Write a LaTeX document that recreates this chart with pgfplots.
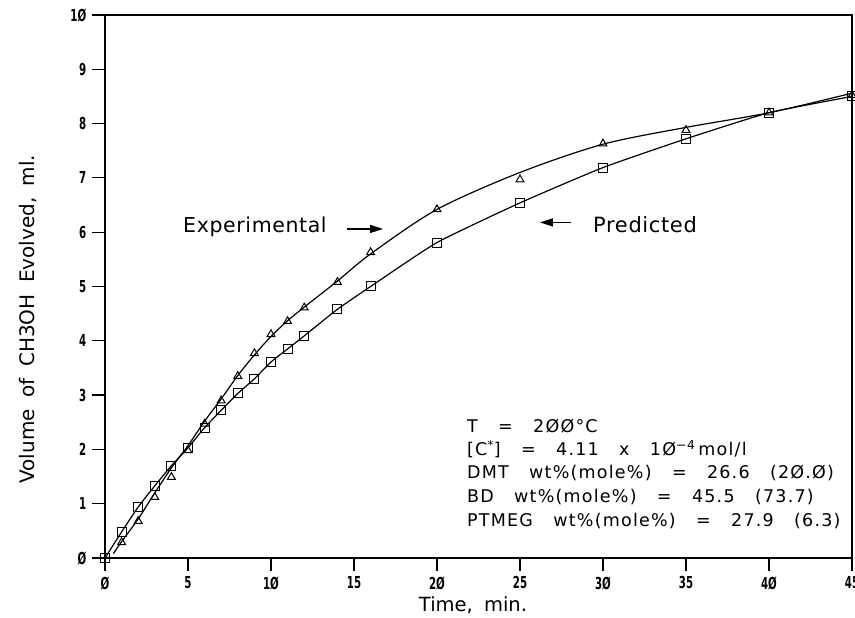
\documentclass[border=0pt]{standalone}
\usepackage{fontspec}
\setmainfont{DejaVu Sans}
\newfontfamily\tickfont{DejaVu Sans}
\newfontfamily\legfont{DejaVu Sans}[LetterSpace=7,WordSpace=3]
\newfontfamily\annfont{DejaVu Sans}[LetterSpace=3]
\newfontfamily\labfont{DejaVu Sans}[WordSpace=1.8]
\usepackage{graphicx}
\usepackage{pgfplots}
\pgfplotsset{compat=1.18}
\usetikzlibrary{arrows.meta}
% narrow bold tick numbers, slashed zeros as in the plotter font
\newcommand\tk[1]{\scalebox{0.62}[1]{\tickfont\bfseries #1}}

\begin{document}
\fontsize{16.5bp}{20bp}\selectfont
\begin{tikzpicture}
\begin{axis}[
    scale only axis,
    width=747bp, height=543bp,
    xmin=0, xmax=45, ymin=0, ymax=10,
    xtick={0,5,...,45},
    xticklabels={\tk{Ø},\tk{5},\tk{1Ø},\tk{15},\tk{2Ø},\tk{25},\tk{3Ø},\tk{35},\tk{4Ø},\tk{45}},
    ytick={0,1,...,10},
    yticklabels={\tk{Ø},\tk{1},\tk{2},\tk{3},\tk{4},\tk{5},\tk{6},\tk{7},\tk{8},\tk{9},\tk{1Ø}},
    xtick pos=bottom, ytick pos=left,
    tick align=outside,
    major tick length=13bp,
    tick style={black, line width=1.2bp},
    axis line style={line width=1.4bp},
    xlabel={Time, min.},
    ylabel={Volume of CH3OH Evolved, ml.},
    every axis x label/.style={at={(axis description cs:0.4926,-0.0866)}, anchor=center,
        font=\labfont\fontsize{19.5bp}{22bp}\selectfont},
    every axis y label/.style={at={(axis description cs:-0.103,0.44)}, anchor=center, rotate=90,
        font=\labfont\fontsize{20bp}{23bp}\selectfont},
    clip=false,
]

% Experimental curve (smooth fit)
\addplot[black, line width=1.2bp, smooth, tension=0.5] coordinates {
    (0.5,0.08) (1,0.30) (2,0.72) (3,1.20) (4,1.66) (5,2.07) (6,2.52)
    (7,2.93) (8,3.36) (9,3.74) (10,4.08) (11,4.37) (12,4.62) (14,5.10)
    (16,5.60) (20,6.42) (25,7.10) (30,7.62) (35,7.93) (40,8.20) (45,8.56)
};

% Experimental points - triangles
\addplot[only marks, mark=triangle, mark size=4.5bp, mark options={line width=1bp, black}] coordinates {
    (1,0.29) (2,0.68) (3,1.12) (4,1.49) (5,1.98) (6,2.47) (7,2.90)
    (8,3.35) (9,3.77) (10,4.12) (11,4.36) (12,4.61) (14,5.08) (16,5.63)
    (20,6.42) (25,6.97) (30,7.63) (35,7.88) (40,8.20) (45,8.52)
};

% Predicted - squares with line
\addplot[black, line width=1.2bp, smooth, tension=0.3, mark=square, mark size=4.5bp, mark options={line width=1bp}] coordinates {
    (0,0) (1,0.48) (2,0.94) (3,1.33) (4,1.70) (5,2.03) (6,2.40)
    (7,2.72) (8,3.03) (9,3.30) (10,3.61) (11,3.85) (12,4.09) (14,4.58)
    (16,5.00) (20,5.81) (25,6.54) (30,7.19) (35,7.72) (40,8.20) (45,8.50)
};

% labels with arrows
\node[anchor=base west, inner sep=0, font=\annfont\fontsize{20.5bp}{24bp}\selectfont] at (axis cs:4.7,5.99) {Experimental};
\draw[line width=1.2bp, -{Triangle[length=13bp,width=8bp]}] (axis cs:14.6,6.06) -- (axis cs:16.75,6.06);
\node[anchor=base west, inner sep=0, font=\annfont\fontsize{21bp}{24bp}\selectfont] at (axis cs:29.4,6.0) {Predicted};
\draw[line width=1.2bp, -{Triangle[length=13bp,width=8bp]}] (axis cs:28.1,6.18) -- (axis cs:26.2,6.18);

% conditions
\begin{scope}[every node/.style={anchor=base west, inner sep=0, font=\legfont\fontsize{17.5bp}{20bp}\selectfont}]
\node at (axis cs:21.8,2.32) {T = 2ØØ°C};
\node at (axis cs:21.8,1.88) {[C\textsuperscript{*}] = 4.11 x 1Ø\textsuperscript{−4}\,mol/l};
\node at (axis cs:21.8,1.455) {DMT wt\%(mole\%) = 26.6 (2Ø.Ø)};
\node at (axis cs:21.8,1.013) {BD wt\%(mole\%) = 45.5 (73.7)};
\node at (axis cs:21.8,0.571) {PTMEG wt\%(mole\%) = 27.9 (6.3)};
\end{scope}

\coordinate (sw) at (rel axis cs:0,0);
\coordinate (ne) at (rel axis cs:1,1);
\end{axis}
\pgfresetboundingbox
\path[use as bounding box] ([shift={(-105bp,-60bp)}]sw) rectangle ([shift={(3bp,15bp)}]ne);
\end{tikzpicture}
\end{document}
